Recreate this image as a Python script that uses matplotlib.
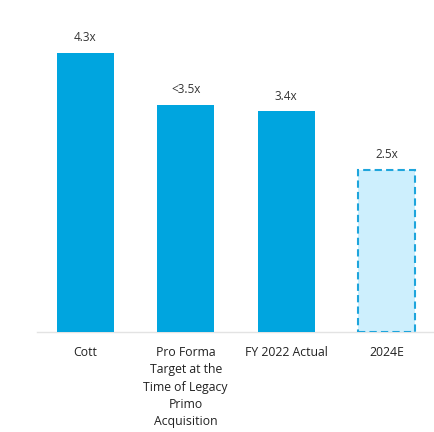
import matplotlib
matplotlib.use("Agg")
import matplotlib.pyplot as plt

categories = ["Cott", "Pro Forma\nTarget at the\nTime of Legacy\nPrimo\nAcquisition", "FY 2022 Actual", "2024E"]
values = [4.3, 3.5, 3.4, 2.5]
labels = ["4.3x", "<3.5x", "3.4x", "2.5x"]
estimate = [False, False, False, True]

plt.rcParams['font.family'] = ['Open Sans', 'DejaVu Sans']

fig = plt.figure(figsize=(4.35, 4.32), dpi=100)
ax = fig.add_axes([37/435, 100/432, 398/435, 312/432])

solid = "#00A5DF"
for i, (v, est) in enumerate(zip(values, estimate)):
    if est:
        ax.bar(i, v, width=0.57, color="#CDEFFD", edgecolor="#1EA5DC",
               linewidth=1.5, linestyle=(0, (3.5, 2)), zorder=3)
    else:
        ax.bar(i, v, width=0.57, color=solid, edgecolor="none", zorder=3)
    ax.annotate(labels[i], (i, v), xytext=(0, 11), textcoords="offset points",
                ha="center", va="center", fontsize=8.5, color="#333333")

ax.set_xlim(-0.48, 3.48)
ax.set_ylim(0, 4.81)
ax.set_yticks([])
ax.set_xticks(range(len(categories)))
ax.set_xticklabels(categories, fontsize=8.8, color="#222222", linespacing=1.44, va="top")
ax.tick_params(axis="x", length=0, pad=10)
for s in ["top", "right", "left"]:
    ax.spines[s].set_visible(False)
ax.spines["bottom"].set_color("#E3E3E3")
ax.spines["bottom"].set_linewidth(1)

fig.savefig("out.png", dpi=100)
